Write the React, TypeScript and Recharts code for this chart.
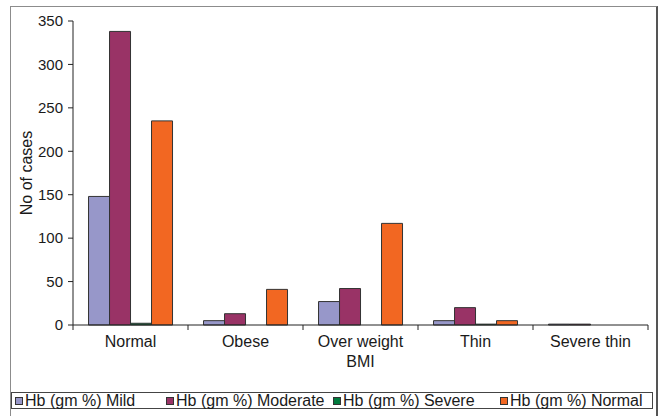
import React from 'react';
import { BarChart, Bar, XAxis, YAxis, Legend, Label } from 'recharts';

const categories = ['Normal', 'Obese', 'Over weight', 'Thin', 'Severe thin'];
const mildValues = [148, 5, 27, 5, 1];
const moderateValues = [338, 13, 42, 20, 1];
const severeValues = [2, 0, 0, 1, 0];
const normalValues = [235, 41, 117, 5, 0];
const yTicks = [0, 50, 100, 150, 200, 250, 300, 350];
const seriesKeys = ['mild', 'moderate', 'severe', 'normal'];
const seriesNames = ['Hb (gm %) Mild', 'Hb (gm %) Moderate', 'Hb (gm %) Severe', 'Hb (gm %) Normal'];
const seriesColors = ['#9797c9', '#993366', '#007a3d', '#f26722'];

const data = categories.map((name, i) => ({
  name,
  mild: mildValues[i],
  moderate: moderateValues[i],
  severe: severeValues[i],
  normal: normalValues[i],
}));

const FONT = '"Liberation Sans", Arial, Helvetica, sans-serif';
const TEXT = '#1a1a1a';
const legendLeft = [3, 154, 321, 488];

const CatTick = (props: any) => {
  const { x, y, payload, index, visibleTicksCount } = props;
  const off = payload && typeof payload.offset === 'number' ? payload.offset : 57.5;
  const last = index === visibleTicksCount - 1;
  return (
    <g>
      <line x1={x - off} x2={x - off} y1={y} y2={y + 5} stroke="#222" />
      {last && <line x1={x + off} x2={x + off} y1={y} y2={y + 5} stroke="#222" />}
      <text x={x} y={y + 22} textAnchor="middle" fontSize={16} fill={TEXT} fontFamily={FONT}>
        {payload.value}
      </text>
    </g>
  );
};

const LegendContent = () => (
  <div
    style={{
      position: 'relative',
      width: '100%',
      height: 17,
      border: '1px solid #444',
      boxSizing: 'border-box',
      fontFamily: FONT,
      fontSize: 16,
      color: TEXT,
      background: '#fff',
    }}
  >
    {seriesNames.map((n, i) => (
      <span
        key={n}
        style={{
          position: 'absolute',
          left: legendLeft[i],
          top: 0,
          height: 15,
          display: 'flex',
          alignItems: 'center',
          whiteSpace: 'nowrap',
          lineHeight: '15px',
        }}
      >
        <span
          style={{
            display: 'inline-block',
            width: 6,
            height: 6,
            border: '1px solid #333',
            background: seriesColors[i],
            marginRight: 2,
          }}
        />
        {n}
      </span>
    ))}
  </div>
);

export default function App() {
  return (
    <div
      style={{
        position: 'absolute',
        left: 0,
        top: 0,
        width: 659,
        height: 416,
        background: '#fff',
        overflow: 'hidden',
        fontFamily: FONT,
      }}
    >
      <div
        style={{
          position: 'absolute',
          left: 10,
          top: 6,
          width: 648,
          height: 420,
          borderLeft: '1px solid #8c8c8c',
          borderTop: '1px solid #8c8c8c',
          borderRight: '2px solid #555',
          boxSizing: 'border-box',
        }}
      />
      <div style={{ position: 'absolute', left: 0, top: 0 }}>
        <BarChart
          width={659}
          height={416}
          data={data}
          margin={{ top: 21, right: 11, left: 0, bottom: 61 }}
          barCategoryGap="13.5%"
          barGap={0}
        >
          <XAxis
            dataKey="name"
            height={30}
            interval={0}
            tickSize={0}
            tickMargin={0}
            tickLine={false}
            axisLine={{ stroke: '#222' }}
            tick={<CatTick />}
          >
            <Label value="BMI" position="bottom" offset={1} fontSize={16} fill={TEXT} fontFamily={FONT} />
          </XAxis>
          <YAxis
            width={73}
            domain={[0, 350]}
            ticks={yTicks}
            interval={0}
            tickSize={5}
            tickMargin={5}
            axisLine={{ stroke: '#222' }}
            tickLine={{ stroke: '#222' }}
            tick={{ fontSize: 15, fill: TEXT, fontFamily: FONT }}
          >
            <Label
              content={(p: any) => {
                const vb = p.viewBox || { x: 0, y: 21, width: 73, height: 304 };
                const cx = vb.x + 26;
                const cy = vb.y + vb.height / 2;
                return (
                  <text
                    x={cx}
                    y={cy}
                    transform={`rotate(-90, ${cx}, ${cy})`}
                    textAnchor="middle"
                    dominantBaseline="central"
                    fontSize={16}
                    fill={TEXT}
                    fontFamily={FONT}
                  >
                    No of cases
                  </text>
                );
              }}
            />
          </YAxis>
          <Legend
            verticalAlign="middle"
            align="center"
            layout="horizontal"
            content={<LegendContent />}
            wrapperStyle={{ position: 'absolute', left: 11, top: 392, width: 642, height: 17 }}
          />
          {seriesKeys.map((k, i) => (
            <Bar
              key={k}
              dataKey={k}
              name={seriesNames[i]}
              fill={seriesColors[i]}
              stroke="#333"
              strokeWidth={1}
              isAnimationActive={false}
            />
          ))}
        </BarChart>
      </div>
    </div>
  );
}
